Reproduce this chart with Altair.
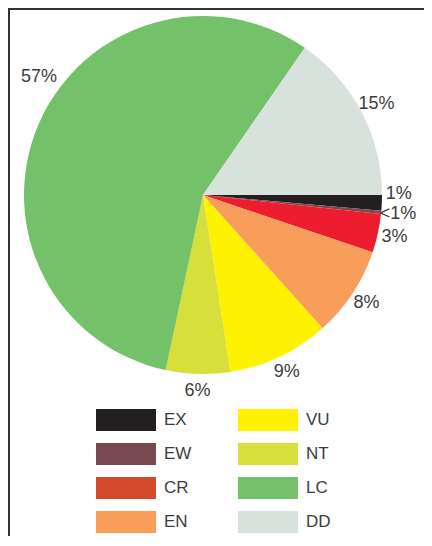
import math
import altair as alt
import pandas as pd

categories = ["EX", "EW", "CR", "EN", "VU", "NT", "LC", "DD"]
shares = [1.4, 0.3, 3.5, 8.2, 9.2, 5.8, 56.4, 15.4]
labels = ["1%", "<1%", "3%", "8%", "9%", "6%", "57%", "15%"]
colors = ["#231f20", "#7a4a53", "#ed1c2e", "#f99d5a", "#fff200", "#d7df3a", "#73c169", "#d8e2dc"]
legend_colors = ["#231f20", "#7a4a53", "#d54a2d", "#f99d5a", "#fff200", "#d7df3a", "#73c169", "#d8e2dc"]

W, H = 416, 528
FONT = "Liberation Sans"
TXT = "#3c3c3c"

df = pd.DataFrame({"cat": categories, "share": shares, "label": labels, "rank": list(range(len(categories)))})

theta_scale = alt.Scale(range=[math.pi / 2, math.pi / 2 + 2 * math.pi])

base = alt.Chart(df)

# invisible layer that only carries the legend (its colours follow the reference legend)
legend_layer = base.mark_arc(radius=179, stroke=None, opacity=0.001).encode(
    theta=alt.Theta("share:Q", stack=True, scale=theta_scale),
    color=alt.Color(
        "cat:N",
        scale=alt.Scale(domain=categories, range=legend_colors),
        legend=alt.Legend(
            title=None,
            orient="none",
            legendX=107,
            legendY=401,
            columns=2,
            symbolType="M-2.727,-1L2.727,-1L2.727,1L-2.727,1Z",
            symbolSize=484,
            symbolStrokeWidth=0,
            symbolOpacity=1,
            labelFont=FONT,
            labelFontSize=17,
            labelColor=TXT,
            labelOffset=27,
            columnPadding=46,
            rowPadding=12,
        ),
    ),
    order=alt.Order("rank:Q"),
    x=alt.value(195),
    y=alt.value(187),
)

pie = base.mark_arc(radius=179, stroke=None).encode(
    theta=alt.Theta("share:Q", stack=True, scale=theta_scale),
    fill=alt.Fill("cat:N", scale=alt.Scale(domain=categories, range=colors), legend=None),
    order=alt.Order("rank:Q"),
    x=alt.value(195),
    y=alt.value(187),
)

lab_base = base.transform_window(
    cum="sum(share)", sort=[alt.SortField("rank")]
).transform_calculate(mid="datum.cum - datum.share / 2")


def label_layer(cond, dx=0, dy=0, radius=196):
    return lab_base.transform_filter(cond).mark_text(
        radius=radius, font=FONT, fontSize=18, color=TXT, dx=dx, dy=dy
    ).encode(
        theta=alt.Theta("mid:Q", stack=False, scale=theta_scale),
        text="label:N",
        x=alt.value(195),
        y=alt.value(187),
    )


text_main = label_layer("datum.cat != 'LC' && datum.cat != 'EX'")
text_ex = label_layer("datum.cat == 'EX'", dy=-10)
text_lc = label_layer("datum.cat == 'LC'", dx=16, dy=-40)

frame_left = base.mark_rule(color="#333333", strokeWidth=1.5).encode(
    x=alt.value(0.75), y=alt.value(0), y2=alt.value(H)
)
frame_top = base.mark_rule(color="#333333", strokeWidth=1.5).encode(
    y=alt.value(0.75), x=alt.value(0), x2=alt.value(W)
)

chart = alt.layer(legend_layer, pie, text_main, text_ex, text_lc, frame_left, frame_top).properties(
    width=W, height=H, padding=0, autosize=alt.AutoSizeParams(type="none")
).configure_view(stroke=None)

chart.save("out.html", embed_options={"renderer": "svg", "actions": False})
